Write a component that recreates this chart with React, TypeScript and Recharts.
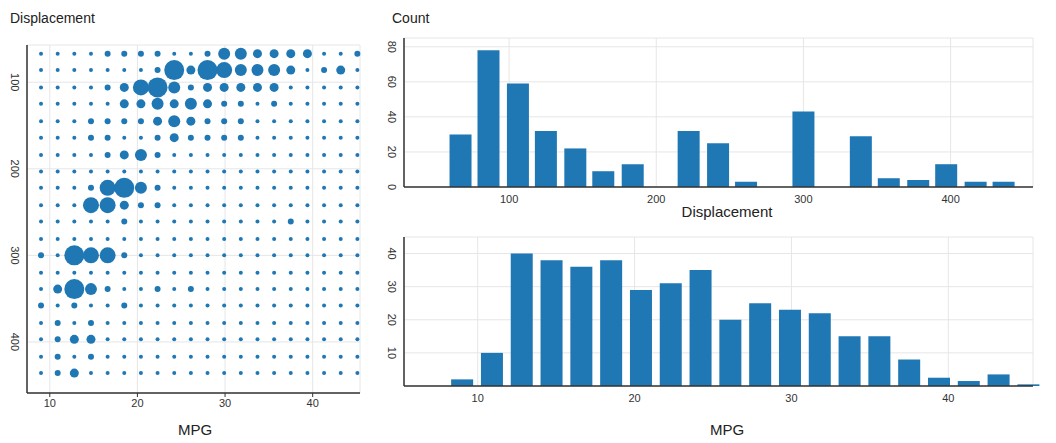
import React from "react";
import {
  Bar,
  BarChart,
  CartesianGrid,
  Scatter,
  ScatterChart,
  XAxis,
  YAxis,
} from "recharts";

const BLUE = "#1f77b4";
const AXIS = "#333";
const GRID = "#e6e6e6";
const FONT = "Liberation Sans, Arial, sans-serif";

// bin centres
const mpgBins = [9.0, 10.9, 12.8, 14.7, 16.6, 18.5, 20.4, 22.3, 24.2, 26.1, 28.0, 29.9, 31.8, 33.7, 35.6, 37.5, 39.4, 41.3, 43.2, 45.1];
const dispBins = [67, 86, 106, 125, 145, 164, 184, 203, 222, 242, 261, 281, 300, 320, 339, 358, 378, 397, 417, 436];

// dot size level per (displacement row, mpg column)
const densityRows = [
  [0, 0, 0, 0, 1, 1, 1, 1, 0, 0, 1, 3, 3, 2, 2, 2, 2, 0, 0, 1],
  [0, 0, 0, 0, 0, 0, 0, 1, 5, 2, 5, 4, 3, 3, 3, 2, 0, 1, 2, 0],
  [0, 0, 0, 0, 1, 2, 4, 5, 3, 1, 2, 2, 2, 2, 2, 0, 0, 0, 0, 0],
  [0, 0, 0, 0, 0, 2, 2, 3, 2, 3, 2, 1, 1, 0, 1, 0, 0, 0, 0, 0],
  [0, 0, 0, 1, 1, 1, 1, 2, 3, 2, 1, 1, 1, 0, 0, 0, 0, 0, 0, 0],
  [0, 0, 0, 1, 1, 0, 0, 1, 2, 1, 1, 1, 1, 0, 0, 0, 0, 0, 0, 0],
  [0, 0, 0, 0, 1, 2, 3, 1, 0, 0, 0, 0, 0, 0, 0, 0, 0, 0, 0, 0],
  [0, 0, 0, 0, 0, 0, 0, 0, 0, 0, 0, 0, 0, 0, 0, 0, 0, 0, 0, 0],
  [0, 0, 0, 1, 4, 5, 3, 1, 0, 0, 0, 0, 0, 0, 0, 0, 0, 0, 0, 0],
  [0, 0, 0, 4, 4, 2, 1, 1, 0, 0, 0, 0, 0, 0, 0, 0, 0, 0, 0, 0],
  [0, 0, 0, 0, 0, 1, 0, 0, 0, 0, 0, 0, 0, 0, 0, 1, 0, 0, 0, 0],
  [0, 0, 0, 0, 0, 0, 0, 0, 0, 0, 0, 0, 0, 0, 0, 0, 0, 0, 0, 0],
  [1, 0, 5, 4, 4, 1, 0, 0, 0, 0, 0, 0, 0, 0, 0, 0, 0, 0, 0, 0],
  [0, 0, 0, 0, 0, 0, 0, 0, 0, 0, 0, 0, 0, 0, 0, 0, 0, 0, 0, 0],
  [0, 2, 5, 3, 1, 0, 0, 1, 0, 1, 0, 0, 0, 0, 0, 0, 0, 0, 0, 0],
  [1, 0, 1, 0, 0, 1, 0, 0, 0, 0, 0, 0, 0, 0, 0, 0, 0, 0, 0, 0],
  [0, 1, 0, 1, 0, 0, 0, 0, 0, 0, 0, 0, 0, 0, 0, 0, 0, 0, 0, 0],
  [0, 1, 2, 2, 0, 0, 0, 0, 0, 0, 0, 0, 0, 0, 0, 0, 0, 0, 0, 0],
  [0, 1, 0, 1, 0, 0, 0, 0, 0, 0, 0, 0, 0, 0, 0, 0, 0, 0, 0, 0],
  [0, 1, 2, 0, 0, 0, 0, 0, 0, 0, 0, 0, 0, 0, 0, 0, 0, 0, 0, 0],
];
const levelRadius = [2, 3, 4.5, 6, 8, 10];

const dispCounts = [30, 78, 59, 32, 22, 9, 13, 0, 32, 25, 3, 0, 43, 0, 29, 5, 4, 13, 3, 3];
const mpgCounts = [2, 10, 40, 38, 36, 38, 29, 31, 35, 20, 25, 23, 22, 15, 15, 8, 2.5, 1.5, 3.5, 0.5];

const mpgTicks = [10, 20, 30, 40];
const dispTicks = [100, 200, 300, 400];
const dispCountTicks = [0, 20, 40, 60, 80];
const mpgCountTicks = [10, 20, 30, 40];

const scatterData = densityRows.flatMap((row, j) =>
  row.map((level, i) => ({ mpg: mpgBins[i], disp: dispBins[j], level }))
);
const dispHist = dispBins.map((d, i) => ({ x: d, count: dispCounts[i] }));
const mpgHist = mpgBins.map((m, i) => ({ x: m, count: mpgCounts[i] }));

const RotTick = (props: any) => {
  const { x, y, payload } = props;
  return (
    <text
      x={x - 8}
      y={y}
      transform={`rotate(90 ${x - 8} ${y})`}
      textAnchor="middle"
      fontSize={11}
      fill={AXIS}
      fontFamily={FONT}
    >
      {payload.value}
    </text>
  );
};

const tickStyle = { fontSize: 11, fill: AXIS, fontFamily: FONT };
const axisLine = { stroke: AXIS, strokeWidth: 1.5 };

const label = (text: string, left: number, top: number, size: number, center = false) => (
  <div
    style={{
      position: "absolute",
      left,
      top,
      fontSize: size,
      fontFamily: FONT,
      color: "#222",
      transform: center ? "translateX(-50%)" : undefined,
      whiteSpace: "nowrap",
    }}
  >
    {text}
  </div>
);

export default function App() {
  return (
    <div style={{ position: "absolute", left: 0, top: 0, width: 1056, height: 443, background: "#fff" }}>
      {label("Displacement", 10, 10, 14)}
      {label("Count", 392, 10, 14)}
      {label("Displacement", 727, 203, 15, true)}
      {label("MPG", 195, 421, 15, true)}
      {label("MPG", 727, 421, 15, true)}

      <div style={{ position: "absolute", left: 0, top: 0 }}>
        <ScatterChart width={370} height={443} margin={{ top: 45, right: 10, left: 0, bottom: 30 }}>
          <CartesianGrid stroke={GRID} />
          <XAxis
            type="number"
            dataKey="mpg"
            domain={[7.4, 45.4]}
            ticks={mpgTicks}
            height={20}
            tick={tickStyle}
            axisLine={axisLine}
            tickLine={{ stroke: AXIS }}
            tickSize={4}
          />
          <YAxis
            type="number"
            dataKey="disp"
            reversed
            domain={[57, 459]}
            ticks={dispTicks}
            width={27}
            tick={<RotTick />}
            axisLine={axisLine}
            tickLine={false}
          />
          <Scatter
            data={scatterData}
            isAnimationActive={false}
            shape={(p: any) => <circle cx={p.cx} cy={p.cy} r={levelRadius[p.payload.level]} fill={BLUE} />}
          />
        </ScatterChart>
      </div>

      <div style={{ position: "absolute", left: 380, top: 0 }}>
        <BarChart width={676} height={215} data={dispHist} margin={{ top: 38, right: 23, left: 0, bottom: 8 }}>
          <CartesianGrid stroke={GRID} />
          <XAxis
            type="number"
            dataKey="x"
            domain={[28.6, 456]}
            ticks={dispTicks}
            height={20}
            tick={tickStyle}
            axisLine={axisLine}
            tickLine={false}
          />
          <YAxis
            domain={[0, 85]}
            ticks={dispCountTicks}
            width={24}
            tick={<RotTick />}
            axisLine={axisLine}
            tickLine={false}
          />
          <Bar dataKey="count" fill={BLUE} barSize={22} isAnimationActive={false} />
        </BarChart>
      </div>

      <div style={{ position: "absolute", left: 380, top: 215 }}>
        <BarChart width={676} height={228} data={mpgHist} margin={{ top: 22, right: 23, left: 0, bottom: 37 }}>
          <CartesianGrid stroke={GRID} />
          <XAxis
            type="number"
            dataKey="x"
            domain={[5.3, 45.4]}
            ticks={mpgTicks}
            height={20}
            tick={tickStyle}
            axisLine={axisLine}
            tickLine={false}
          />
          <YAxis
            domain={[0, 45]}
            ticks={mpgCountTicks}
            width={24}
            tick={<RotTick />}
            axisLine={axisLine}
            tickLine={false}
          />
          <Bar dataKey="count" fill={BLUE} barSize={22} isAnimationActive={false} />
        </BarChart>
      </div>
    </div>
  );
}
